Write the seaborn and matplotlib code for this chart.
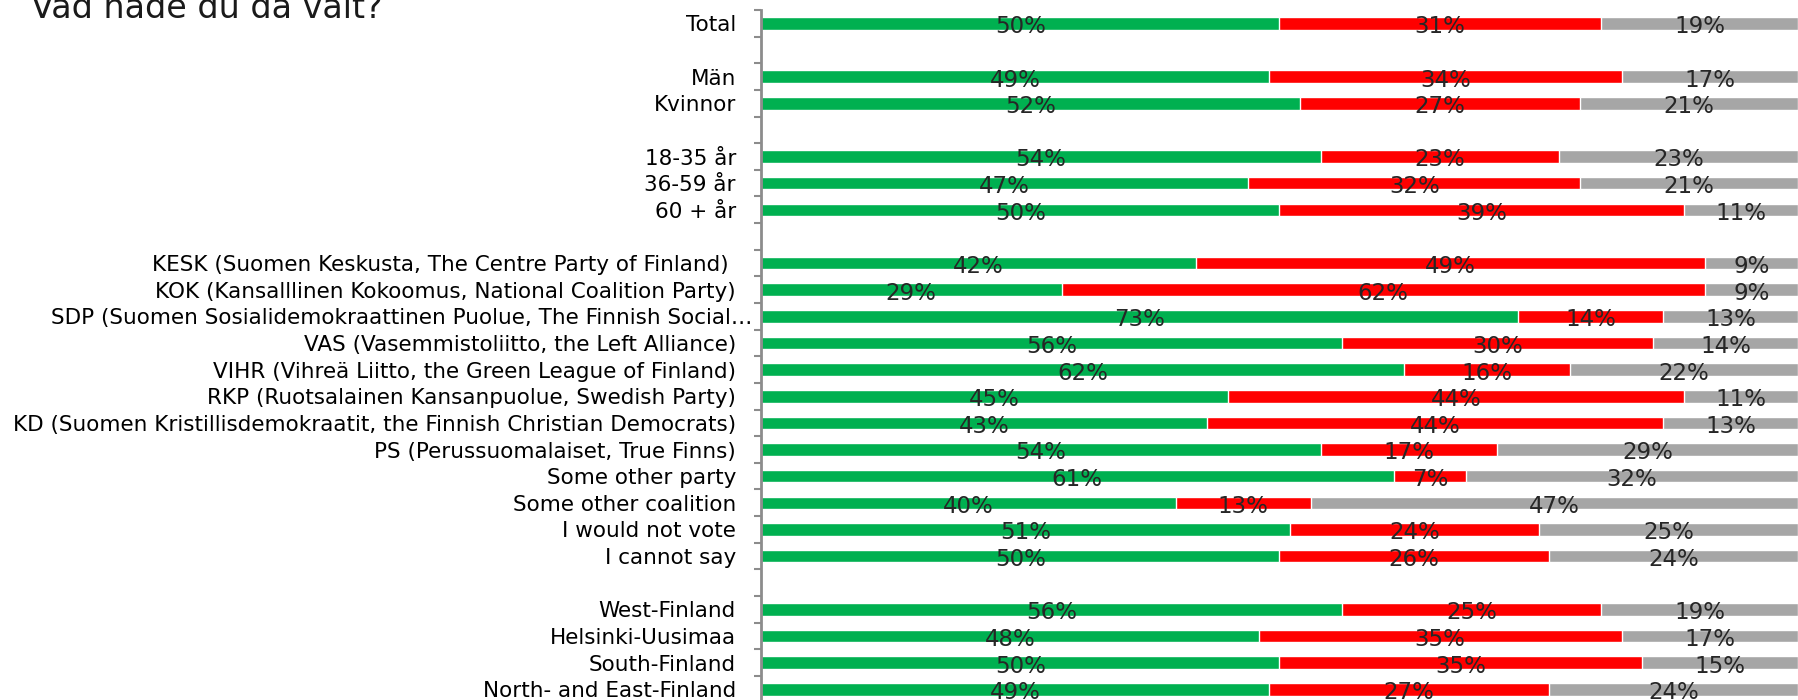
import numpy as np
import pandas as pd
import matplotlib
matplotlib.use("Agg")
import matplotlib.pyplot as plt
import matplotlib.transforms as mtransforms
import seaborn as sns

# rows, top to bottom (blank strings are the gaps between groups)
order = [
    "Total", "",
    "Män", "Kvinnor", " ",
    "18-35 år", "36-59 år", "60 + år", "  ",
    "KESK (Suomen Keskusta, The Centre Party of Finland) ",
    "KOK (Kansalllinen Kokoomus, National Coalition Party)",
    "SDP (Suomen Sosialidemokraattinen Puolue, The Finnish Social\u2026",
    "VAS (Vasemmistoliitto, the Left Alliance)",
    "VIHR (Vihreä Liitto, the Green League of Finland)",
    "RKP (Ruotsalainen Kansanpuolue, Swedish Party)",
    "KD (Suomen Kristillisdemokraatit, the Finnish Christian Democrats)",
    "PS (Perussuomalaiset, True Finns)",
    "Some other party",
    "Some other coalition",
    "I would not vote",
    "I cannot say", "   ",
    "West-Finland", "Helsinki-Uusimaa", "South-Finland", "North- and East-Finland",
]
groups = [g for g in order if g.strip()]

green = [50, 49, 52, 54, 47, 50, 42, 29, 73, 56, 62, 45, 43, 54, 61, 40, 51, 50, 56, 48, 50, 49]
red = [31, 34, 27, 23, 32, 39, 49, 62, 14, 30, 16, 44, 44, 17, 7, 13, 24, 26, 25, 35, 35, 27]
grey = [19, 17, 21, 23, 21, 11, 9, 9, 13, 14, 22, 11, 13, 29, 32, 47, 25, 24, 19, 17, 15, 24]

df = pd.DataFrame({"group": groups, "green": green, "red": red, "grey": grey})
df["cum_red"] = df["green"] + df["red"]
df["cum_grey"] = df["cum_red"] + df["grey"]

sns.set_style("white")
plt.rcParams["font.family"] = ["DejaVu Sans"]

fig = plt.figure(figsize=(17.98, 7.0), dpi=100)
ax = fig.add_axes([0.4232, -0.0037, 0.5768, 0.9894])

# stacked bars by overlaying the running totals
bar_w = 0.47
sns.barplot(data=df, y="group", x="cum_grey", order=order, color="#A6A6A6",
            width=bar_w, saturation=1, orient="h", ax=ax)
sns.barplot(data=df, y="group", x="cum_red", order=order, color="#FF0000",
            width=bar_w, saturation=1, orient="h", ax=ax)
sns.barplot(data=df, y="group", x="green", order=order, color="#00B050",
            width=bar_w, saturation=1, orient="h", ax=ax)

ax.set_xlim(0, 100)
ax.set_ylim(len(order) - 0.5, -0.5)
ax.set_xlabel("")
ax.set_ylabel("")
ax.set_xticks([])

for s in ["top", "right", "bottom"]:
    ax.spines[s].set_visible(False)
ax.spines["left"].set_color("#8C8C8C")
ax.spines["left"].set_linewidth(2)

# short grey ticks between the rows, none at the labels
ax.set_yticks(np.arange(-0.5, len(order), 1), minor=True)
ax.tick_params(axis="y", which="minor", left=True, length=5, width=1.5, color="#8C8C8C")
ax.tick_params(axis="y", which="major", left=True, length=0, pad=18, labelsize=15.5,
               labelcolor="black")

# the long SDP label runs a little further right
for lab in ax.get_yticklabels():
    if lab.get_text().startswith("SDP"):
        lab.set_transform(lab.get_transform() +
                          mtransforms.ScaledTranslation(0.16, 0, fig.dpi_scale_trans))

# value labels centred in each segment
for _, r in df.iterrows():
    y = order.index(r["group"]) + 0.13
    ax.text(r["green"] / 2, y, f"{r['green']}%", ha="center", va="center", fontsize=16.5)
    ax.text(r["green"] + r["red"] / 2, y, f"{r['red']}%", ha="center", va="center", fontsize=16.5)
    ax.text(r["cum_red"] + r["grey"] / 2, y, f"{r['grey']}%", ha="center", va="center", fontsize=16.5)

fig.text(31 / 1798, 1 - 18 / 700, "Vad hade du då valt?", fontsize=24,
         color="#1A1A1A", ha="left", va="baseline")

fig.savefig("out.png", dpi=100)
